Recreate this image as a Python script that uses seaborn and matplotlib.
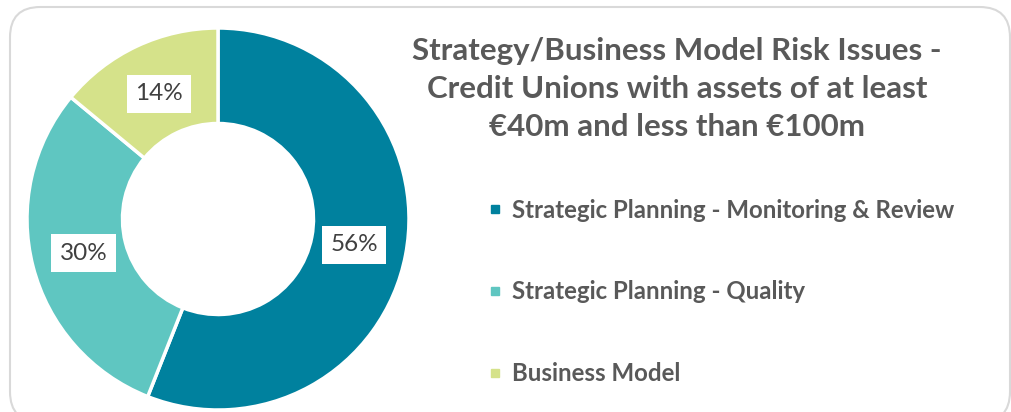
import matplotlib
matplotlib.use('Agg')
import matplotlib.pyplot as plt
from matplotlib.patches import FancyBboxPatch
from matplotlib.lines import Line2D
import numpy as np
import seaborn as sns

categories = ['Strategic Planning - Monitoring & Review',
              'Strategic Planning - Quality',
              'Business Model']
shares = [56, 30, 14]
title = 'Strategy/Business Model Risk Issues -\nCredit Unions with assets of at least\n€40m and less than €100m'

COLORS = ['#00819e', '#5fc6c1', '#d5e28a']
TEXT = '#595959'

sns.set_theme(style='white')
plt.rcParams['font.family'] = ['Lato', 'DejaVu Sans']

W, H = 1012, 412
fig = plt.figure(figsize=(W / 100, H / 100), dpi=100)
fig.patch.set_facecolor('white')

# rounded frame
frame = FancyBboxPatch((10 / W, -10 / H), 1000 / W, 415 / H,
                       boxstyle='round,pad=0,rounding_size=0.03',
                       transform=fig.transFigure, facecolor='none',
                       edgecolor='#d9d9d9', lw=1.5, mutation_aspect=W / H)
fig.patches.append(frame)

cx, cy, r = 218, 412 - 219, 191
ax = fig.add_axes([(cx - r) / W, (cy - r) / H, 2 * r / W, 2 * r / H])
wedges, _ = ax.pie(shares, colors=COLORS, startangle=90, counterclock=False,
                   radius=1, wedgeprops=dict(width=0.5, edgecolor='white', linewidth=2.5))
ax.set_xlim(-1, 1); ax.set_ylim(-1, 1)
ax.set_aspect('equal')
ax.axis('off')

for w, v in zip(wedges, shares):
    mid = np.deg2rad((w.theta1 + w.theta2) / 2)
    ax.text(0.725 * np.cos(mid), 0.725 * np.sin(mid), f'{v}%', ha='center', va='center',
            fontsize=17.5, color='#404040',
            bbox=dict(boxstyle='square,pad=0.35', facecolor='white', edgecolor='none'))

fig.text(677 / W, 1 - 89 / H, title, ha='center', va='center', fontsize=22.5,
         fontweight='bold', color=TEXT, linespacing=1.42)

handles = [Line2D([0], [0], marker='s', ls='none', markersize=6,
                  markerfacecolor=c, markeredgecolor=c) for c in COLORS]
leg = fig.legend(handles, categories, loc='upper left', bbox_to_anchor=(464 / W, 1 - 177 / H),
                 frameon=False, handletextpad=0.3, labelspacing=2.45, handlelength=0.8,
                 prop={'size': 17.3, 'weight': 'bold'})
for t in leg.get_texts():
    t.set_color(TEXT)

fig.savefig('out.png', dpi=100, facecolor='white')
